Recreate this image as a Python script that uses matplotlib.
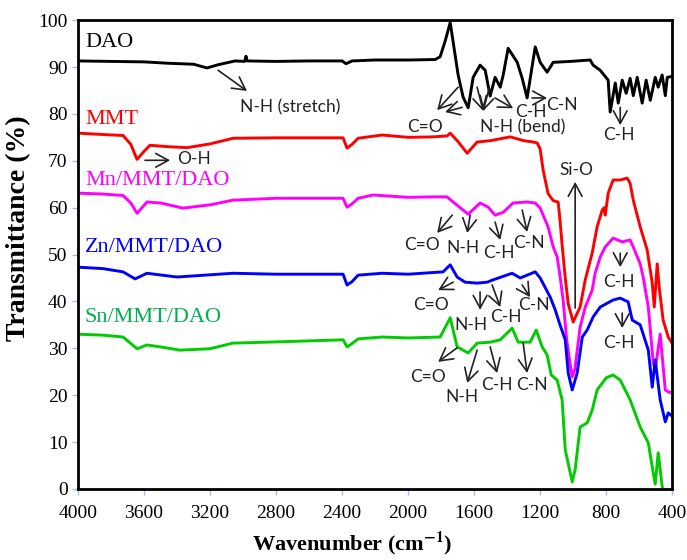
import matplotlib
matplotlib.use('Agg')
import matplotlib.pyplot as plt

plt.rcParams['mathtext.fontset'] = 'stix'

# FTIR spectra (wavenumber cm-1, transmittance %)
dao_wn = [4000, 3800, 3600, 3450, 3300, 3218, 3150, 3048, 2990, 2982, 2975, 2800, 2600, 2400,
          2376, 2340, 2200, 2000, 1836, 1806, 1776, 1745, 1697, 1667, 1636, 1606, 1564, 1533,
          1503, 1473, 1442, 1424, 1394, 1339, 1309, 1279, 1230, 1200, 1158, 1121, 1018, 897,
          879, 836, 788, 776, 745, 727, 703, 679, 655, 636, 612, 582, 558, 533, 503, 485, 461,
          442, 430, 400]
dao_t = [91.3, 91.2, 91.1, 90.8, 90.6, 89.8, 90.5, 91.3, 91.2, 92.3, 91.3, 91.2, 91.3, 91.3,
         90.7, 91.3, 91.5, 91.5, 91.6, 92.2, 95.5, 99.5, 88.3, 83.6, 81.3, 87.8, 90.4, 89.3,
         83.8, 87.8, 85.7, 88.3, 94.0, 91.0, 87.6, 83.4, 94.3, 91.0, 88.9, 91.0, 91.2, 91.5,
         90.4, 89.3, 87.2, 80.4, 86.6, 82.3, 87.2, 84.4, 87.6, 83.9, 87.8, 82.3, 87.2, 82.9,
         87.8, 85.7, 88.3, 83.9, 87.8, 88.0]

mmt_wn = [4000, 3850, 3727, 3680, 3642, 3600, 3564, 3450, 3339, 3200, 3061, 2800, 2500, 2394,
          2370, 2340, 2303, 2158, 2000, 1850, 1764, 1745, 1700, 1642, 1582, 1500, 1382, 1300,
          1242, 1218, 1200, 1182, 1152, 1121, 1091, 1079, 1067, 1048, 1030, 1000, 958, 927,
          885, 855, 824, 812, 806, 788, 758, 715, 673, 655, 636, 594, 552, 521, 509, 491, 479,
          455, 424, 400]
mmt_t = [75.9, 75.6, 75.4, 73.5, 70.3, 72.0, 73.3, 73.0, 72.8, 73.6, 74.8, 74.9, 74.9, 74.9,
         72.7, 73.5, 74.8, 75.5, 75.0, 75.1, 75.3, 75.9, 74.2, 71.6, 74.0, 74.3, 75.1, 74.3,
         74.0, 73.8, 72.5, 68.0, 63.0, 61.5, 61.2, 57.0, 52.0, 45.0, 39.5, 35.6, 38.8, 44.6,
         50.3, 55.9, 59.5, 60.0, 58.4, 63.1, 65.9, 65.9, 66.3, 65.2, 61.6, 55.9, 51.0, 43.9,
         38.8, 48.0, 43.0, 36.0, 32.4, 31.0]

mn_wn = [4000, 3850, 3727, 3680, 3642, 3582, 3500, 3364, 3200, 3061, 2800, 2394, 2370, 2340,
         2303, 2212, 2000, 1850, 1764, 1727, 1636, 1564, 1515, 1473, 1424, 1364, 1279, 1230,
         1200, 1152, 1121, 1097, 1079, 1061, 1040, 1020, 1006, 990, 958, 927, 885, 867, 836,
         806, 758, 703, 655, 636, 594, 576, 545, 515, 503, 485, 473, 442, 424, 400]
mn_t = [63.1, 62.9, 62.6, 61.0, 58.8, 61.2, 61.0, 59.9, 60.6, 61.6, 62.0, 62.0, 60.1, 60.8,
        62.0, 62.7, 62.2, 62.3, 62.3, 61.2, 58.6, 61.0, 60.1, 58.4, 59.0, 61.0, 61.2, 61.0,
        59.9, 55.9, 51.6, 49.5, 45.2, 40.3, 32.0, 27.0, 23.9, 25.5, 34.5, 38.8, 42.4, 46.0,
        49.5, 51.6, 53.5, 52.7, 53.1, 51.6, 48.0, 45.2, 38.8, 26.9, 25.4, 30.0, 33.0, 21.1,
        20.7, 20.5]

zn_wn = [4000, 3850, 3727, 3654, 3582, 3400, 3061, 2800, 2394, 2370, 2340, 2303, 2158, 2000,
         1788, 1745, 1703, 1655, 1582, 1521, 1485, 1370, 1321, 1230, 1200, 1139, 1109, 1080,
         1048, 1030, 1006, 976, 945, 915, 879, 836, 758, 715, 667, 642, 594, 545, 521, 503,
         473, 442, 424, 400]
zn_t = [47.3, 47.0, 46.3, 44.8, 46.0, 45.2, 46.0, 45.8, 45.8, 43.5, 44.2, 45.6, 46.0, 45.8,
        46.3, 47.8, 45.2, 44.1, 43.9, 44.1, 44.6, 46.0, 45.0, 46.3, 45.0, 40.9, 38.2, 35.0,
        31.8, 24.7, 21.1, 24.7, 32.4, 33.9, 36.7, 38.8, 40.3, 40.7, 39.9, 36.0, 35.0, 29.6,
        21.7, 27.5, 19.0, 14.3, 16.2, 15.5]

sn_wn = [4000, 3850, 3727, 3642, 3582, 3503, 3382, 3200, 3061, 2855, 2394, 2370, 2340, 2303,
         2158, 2000, 1806, 1745, 1703, 1636, 1582, 1503, 1442, 1370, 1333, 1261, 1224, 1188,
         1158, 1133, 1097, 1067, 1048, 1006, 988, 958, 915, 885, 855, 800, 758, 715, 655,
         594, 545, 515, 503, 485, 461, 442, 400]
sn_t = [33.0, 32.8, 32.4, 29.9, 30.7, 30.3, 29.6, 29.9, 31.1, 31.3, 31.8, 30.3, 31.0, 32.0,
        32.4, 32.2, 32.4, 36.5, 30.3, 29.0, 31.1, 31.3, 31.8, 34.3, 31.3, 31.3, 33.9, 30.3,
        28.6, 24.3, 23.2, 19.0, 8.3, 1.5, 4.1, 13.2, 14.1, 16.8, 21.1, 23.7, 24.3, 23.2,
        19.0, 13.2, 9.8, 3.4, 1.0, 7.7, 0.5, -2.0, -3.0]

series = [
    ('DAO', dao_wn, dao_t, 'black', 'black', 95.3),
    ('MMT', mmt_wn, mmt_t, '#FF0000', '#FF0000', 78.7),
    ('Mn/MMT/DAO', mn_wn, mn_t, '#FF00FF', '#FF00FF', 65.7),
    ('Zn/MMT/DAO', zn_wn, zn_t, '#0000FF', '#0000FF', 51.4),
    ('Sn/MMT/DAO', sn_wn, sn_t, '#00CC00', '#00B050', 36.5),
]

# band assignments: (text, text position, [(arrow tail, arrow head), ...])
bands = [
    ('N-H (stretch)', (2715, 81.4), [((3151, 89.3), (2976, 84.9))]),
    ('C=O', (1897, 77.2), [((1697, 85.7), (1824, 80.8)), ((1673, 81.4), (1776, 80.4))]),
    ('N-H (bend)', (1303, 77.2), [((1582, 85.7), (1545, 80.6)), ((1509, 85.5), (1545, 80.6))]),
    ('C-H', (1255, 80.4), [((1473, 83.4), (1364, 81.2))]),
    ('C-N', (1067, 81.9), [((1249, 83.4), (1158, 83.4))]),
    ('C-H', (721, 75.5), [((715, 81.4), (715, 77.6))]),
    ('Si-O', (982, 68.0), [((988, 38.6), (988, 65.5))]),
    ('C=O', (1915, 52.0), [((1733, 58.4), (1824, 54.6))]),
    ('N-H', (1667, 51.4), [((1624, 58.4), (1642, 54.6))]),
    ('C-H', (1449, 50.3), [((1473, 56.9), (1442, 53.1))]),
    ('C-N', (1267, 52.5), [((1309, 59.5), (1279, 54.8))]),
    ('C-H', (721, 44.1), [((715, 50.3), (715, 47.3))]),
    ('C=O', (1861, 39.2), [((1727, 44.1), (1818, 42.4))]),
    ('N-H', (1618, 35.0), [((1564, 42.0), (1564, 38.2))]),
    ('C-H', (1406, 36.7), [((1491, 43.5), (1442, 38.8))]),
    ('C-N', (1236, 39.2), [((1309, 43.5), (1261, 40.9))]),
    ('C-H', (721, 31.1), [((703, 37.5), (703, 34.3))]),
    ('C=O', (1879, 23.9), [((1703, 30.1), (1818, 27.1))]),
    ('N-H', (1673, 19.6), [((1582, 29.6), (1642, 22.6))]),
    ('C-H', (1461, 22.2), [((1503, 30.3), (1461, 24.7))]),
    ('C-N', (1248, 22.2), [((1303, 31.1), (1279, 24.7))]),
]

fig = plt.figure(figsize=(6.87, 5.60), dpi=100)
ax = fig.add_axes([0.1135, 0.127, 0.865, 0.837])

for name, wn, t, color, label_color, label_y in series:
    ax.plot(wn, t, color=color, linewidth=2.1)
    ax.text(3958, label_y, name, color=label_color, fontsize=16,
            family='Liberation Serif', ha='left', va='center')

arrow_style = dict(arrowstyle='->,head_length=0.7,head_width=0.38', color='#222222',
                   lw=1.2, shrinkA=0, shrinkB=0, mutation_scale=13)
for text, pos, arrows in bands:
    for tail, head in arrows:
        ax.annotate('', xy=head, xytext=tail, arrowprops=arrow_style)
    ax.text(pos[0], pos[1], text, fontsize=12.5, family='Lato', color='#222222',
            ha='center', va='center')
# O-H label is left aligned after its arrow
ax.annotate('', xy=(3442, 70.1), xytext=(3594, 70.1), arrowprops=arrow_style)
ax.text(3400, 70.4, 'O-H', fontsize=12.5, family='Lato', color='#222222',
        ha='left', va='center')

ax.set_xlim(4000, 400)
ax.set_ylim(0, 100)
ax.set_xticks(range(4000, 399, -400))
ax.set_yticks(range(0, 101, 10))
ax.tick_params(axis='both', direction='out', length=4.5, width=1, color='#A9BCD6',
               labelsize=14, pad=3)
ax.tick_params(axis='x', pad=7)
for lab in ax.get_xticklabels() + ax.get_yticklabels():
    lab.set_family('Liberation Serif')
for side in ['top', 'right', 'bottom', 'left']:
    ax.spines[side].set_linewidth(2.0)
    ax.spines[side].set_color('black')

ax.set_xlabel(r'Wavenumber (cm$^{\mathbf{-1}}$)', fontsize=16, fontweight='bold',
              family='Liberation Serif')
ax.set_ylabel('Transmittance (%)', fontsize=20, fontweight='bold',
              family='Liberation Serif')
ax.xaxis.set_label_coords(0.461, -0.088)
ax.yaxis.set_label_coords(-0.078, 0.556)

plt.savefig('out.png', dpi=100)
